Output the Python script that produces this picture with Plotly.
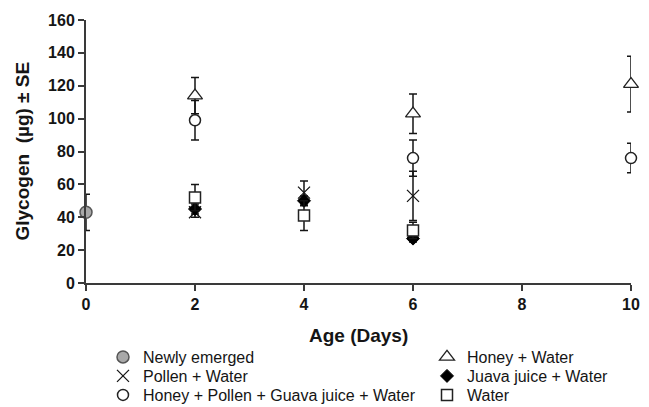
import plotly.graph_objects as go

# Data (age in days, glycogen µg, SE)
newly_x = [0]
newly_y = [43]
newly_e = [11]

honey_x = [2, 6, 10]
honey_y = [114, 103, 121]
honey_e = [11, 12, 17]

pollen_x = [2, 4, 6]
pollen_y = [43, 55, 53]
pollen_e = [3, 7, 15]

juava_x = [2, 4, 6]
juava_y = [45, 50, 27]
juava_e = [3, 3, 2]

hpg_x = [2, 6, 10]
hpg_y = [99, 76, 76]
hpg_e = [12, 11, 9]

water_x = [2, 4, 6]
water_y = [52, 41, 32]
water_e = [8, 9, 5]

x_ticks = [0, 2, 4, 6, 8, 10]
y_ticks = [0, 20, 40, 60, 80, 100, 120, 140, 160]

FONT = "Liberation Sans, Arial, sans-serif"
INK = "#151515"
AX = "#3a3a3a"

# page body has an 8px margin, so the figure is drawn 8px smaller
W, H = 641, 399

def err(arr):
    return dict(type="data", array=arr, visible=True, color=INK, thickness=1.5, width=4)

fig = go.Figure()

fig.add_trace(go.Scatter(x=newly_x, y=newly_y, error_y=err(newly_e), mode="markers",
    name="Newly emerged", legend="legend",
    marker=dict(symbol="circle", size=12, color="#a8a8a8", line=dict(color="#555", width=1.5))))
fig.add_trace(go.Scatter(x=pollen_x, y=pollen_y, error_y=err(pollen_e), mode="markers",
    name="Pollen + Water", legend="legend2",
    marker=dict(symbol="x-thin-open", size=12, color=INK, line=dict(color="#333", width=1.3))))
fig.add_trace(go.Scatter(x=hpg_x, y=hpg_y, error_y=err(hpg_e), mode="markers",
    name="Honey + Pollen + Guava juice + Water", legend="legend3",
    marker=dict(symbol="circle", size=11, color="white", line=dict(color="#222", width=1.5))))
fig.add_trace(go.Scatter(x=honey_x, y=honey_y, error_y=err(honey_e), mode="markers",
    name="Honey + Water", legend="legend4",
    marker=dict(symbol="triangle-up", size=13, color="white", line=dict(color="#222", width=1.3))))
fig.add_trace(go.Scatter(x=juava_x, y=juava_y, error_y=err(juava_e), mode="markers",
    name="Juava juice + Water", legend="legend5",
    marker=dict(symbol="diamond", size=10, color="black", line=dict(color="black", width=1))))
fig.add_trace(go.Scatter(x=water_x, y=water_y, error_y=err(water_e), mode="markers",
    name="Water", legend="legend6",
    marker=dict(symbol="square", size=11, color="white", line=dict(color="#222", width=1.5))))

def leg(xpx, ypx):
    return dict(orientation="v", xref="container", yref="container",
                x=xpx / W, y=1 - ypx / H, xanchor="left", yanchor="middle",
                font=dict(family=FONT, size=16, color=INK),
                bgcolor="rgba(0,0,0,0)", itemwidth=30, borderwidth=0)

col1, col2 = 95, 419
row1, row2, row3 = 349, 368, 387

fig.update_layout(
    width=W, height=H,
    margin=dict(l=78, r=18, t=12, b=124, autoexpand=False),
    showlegend=True,
    paper_bgcolor="white", plot_bgcolor="white",
    font=dict(family=FONT, color=INK),
    legend=leg(col1, row1),
    legend2=leg(col1, row2),
    legend3=leg(col1, row3),
    legend4=leg(col2, row1),
    legend5=leg(col2, row2),
    legend6=leg(col2, row3),
    xaxis=dict(range=[0, 10], tickvals=x_ticks, showline=True, linecolor=AX, linewidth=2,
               ticks="outside", ticklen=6, tickcolor=AX, tickwidth=1.5, showgrid=False, zeroline=False,
               tickfont=dict(family=FONT, size=16, color=INK, weight="bold")),
    yaxis=dict(range=[0, 160], tickvals=y_ticks, showline=True, linecolor=AX, linewidth=2,
               ticks="outside", ticklen=6, tickcolor=AX, tickwidth=1.5, showgrid=False, zeroline=False,
               tickfont=dict(family=FONT, size=16, color=INK, weight="bold")),
    annotations=[
        dict(text="<b>Age (Days)</b>", xref="paper", yref="paper", x=0.5, y=0,
             xanchor="center", yanchor="middle", yshift=-52, showarrow=False,
             font=dict(family=FONT, size=19, color=INK)),
        dict(text="<b>Glycogen  (µg) ± SE</b>", xref="paper", yref="paper", x=0, y=0.5,
             xanchor="center", yanchor="middle", xshift=-64, textangle=-90, showarrow=False,
             font=dict(family=FONT, size=19, color=INK)),
    ],
)
fig.update_traces(cliponaxis=False)

fig.write_html("out.html")
